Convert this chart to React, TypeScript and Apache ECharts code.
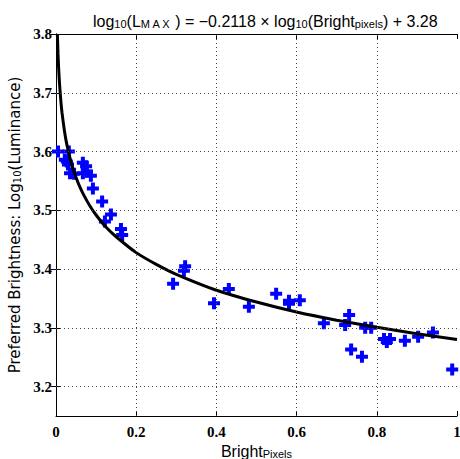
import React, { useEffect, useRef } from "react";
import * as echarts from "echarts";

const pointX = [
  0.005, 0.032, 0.022, 0.027, 0.03, 0.035, 0.045, 0.067, 0.075, 0.077, 0.067, 0.087,
  0.092, 0.115, 0.137, 0.122, 0.162, 0.165, 0.292, 0.319, 0.322, 0.394, 0.431,
  0.481, 0.549, 0.581, 0.581, 0.608, 0.668, 0.721, 0.731, 0.771, 0.786, 0.736,
  0.763, 0.818, 0.825, 0.833, 0.87, 0.903, 0.94, 0.988,
];
const pointY = [
  3.6, 3.6, 3.586, 3.583, 3.578, 3.563, 3.562, 3.581, 3.575, 3.566, 3.563, 3.559,
  3.537, 3.515, 3.493, 3.481, 3.468, 3.458, 3.375, 3.397, 3.405, 3.342, 3.366,
  3.336, 3.358, 3.346, 3.341, 3.347, 3.308, 3.305, 3.322, 3.3, 3.3, 3.263,
  3.251, 3.281, 3.276, 3.281, 3.278, 3.285, 3.292, 3.229,
];

// fitted curve log10(Lmax) = -0.2118*log10(Bright) + 3.28, sampled values
const curveX = [
  0.0035, 0.004, 0.005, 0.0065, 0.008, 0.01, 0.0125, 0.015, 0.02, 0.025, 0.03, 0.04,
  0.05, 0.06, 0.07, 0.085, 0.1, 0.125, 0.15, 0.2, 0.25, 0.3, 0.4, 0.5, 0.6, 0.7,
  0.8, 0.9, 1.0,
];
const curveY = [
  3.8, 3.788, 3.767, 3.743, 3.724, 3.704, 3.683, 3.666, 3.64, 3.619, 3.603, 3.576,
  3.556, 3.539, 3.525, 3.507, 3.492, 3.471, 3.455, 3.428, 3.408, 3.391, 3.364,
  3.344, 3.327, 3.313, 3.301, 3.29, 3.28,
];

const yTicks = [3.2, 3.3, 3.4, 3.5, 3.6, 3.7, 3.8];
const yGrid = [3.2, 3.3, 3.4, 3.5, 3.6, 3.7];
const xGrid = [0.2, 0.4, 0.6, 0.8];

const DEJAVU = "'DejaVu Sans', sans-serif";
const LIB = "'Liberation Sans', Arial, sans-serif";
const SERIF = "'Liberation Serif', serif";

function richStyles(font: string, main: number, sub: number) {
  return {
    a: { fontFamily: font, fontSize: main, color: "#000", lineHeight: 16, verticalAlign: "bottom" },
    s: { fontFamily: font, fontSize: sub, color: "#000", lineHeight: 22, verticalAlign: "bottom" },
    m: { fontFamily: font, fontSize: sub, color: "#000", lineHeight: 19, verticalAlign: "bottom" },
  };
}

export default function App() {
  const ref = useRef<HTMLDivElement>(null);
  useEffect(() => {
    if (!ref.current) return;
    const chart = echarts.init(ref.current, null, { renderer: "svg" });
    const tickLabel = {
      fontFamily: SERIF,
      fontWeight: "bold" as const,
      fontSize: 15,
      color: "#000",
    };
    const gridLine = {
      color: "#444",
      type: [1, 3] as any,
      width: 1,
    };
    chart.setOption({
      animation: false,
      backgroundColor: "#fff",
      title: {
        left: 88,
        top: 2,
        text: "{a|log}{s|10}{a|(L}{m|M A X}{a| ) = −0.2118 × log}{s|10}{a|(Bright}{s|pixels}{a|) + 3.28}",
        textStyle: {
          fontFamily: LIB,
          fontWeight: "normal",
          rich: richStyles(LIB, 16, 11),
        },
      },
      grid: { left: 56, top: 34, width: 401, height: 382, containLabel: false, outerBoundsMode: "none" },
      xAxis: [
        {
          type: "value",
          min: 0,
          max: 1,
          interval: 0.2,
          position: "bottom",
          name: "{a|Bright}{s|Pixels}",
          nameLocation: "middle",
          nameGap: 17,
          nameTextStyle: { rich: richStyles(LIB, 16, 11) },
          axisLine: { show: true, lineStyle: { color: "#000", width: 1 } },
          axisTick: { show: true, inside: true, length: 5, lineStyle: { color: "#000" } },
          axisLabel: { ...tickLabel, margin: 8 },
          splitLine: { show: false },
        },
        {
          type: "value",
          min: 0,
          max: 1,
          interval: 0.2,
          position: "top",
          axisLine: { show: true, lineStyle: { color: "#000", width: 1 } },
          axisTick: { show: true, inside: true, length: 5, lineStyle: { color: "#000" } },
          axisLabel: { show: false },
          splitLine: { show: false },
        },
      ],
      yAxis: [
        {
          type: "value",
          min: 3.15,
          max: 3.8,
          position: "left",
          name: "{a|Preferred Brightness: Log}{s|10}{a|(Luminance)}",
          nameLocation: "middle",
          nameGap: 30,
          nameTextStyle: { rich: richStyles(DEJAVU, 15, 10) },
          axisLine: { show: true, lineStyle: { color: "#000", width: 1 } },
          axisTick: { show: true, inside: true, length: 5, customValues: yTicks, lineStyle: { color: "#000" } },
          axisLabel: { ...tickLabel, margin: 4, customValues: yTicks, formatter: (v: number) => v.toFixed(1) },
          splitLine: { show: false },
        },
        {
          type: "value",
          min: 3.15,
          max: 3.8,
          position: "right",
          axisLine: { show: true, lineStyle: { color: "#000", width: 1 } },
          axisTick: { show: true, inside: true, length: 5, customValues: yTicks, lineStyle: { color: "#000" } },
          axisLabel: { show: false, customValues: yTicks },
          splitLine: { show: false },
        },
      ],
      series: [
        {
          type: "line",
          data: [],
          silent: true,
          markLine: {
            silent: true,
            symbol: "none",
            label: { show: false },
            lineStyle: gridLine,
            data: [
              ...yGrid.map((v) => ({ yAxis: v })),
              ...xGrid.map((v) => ({ xAxis: v })),
            ],
          },
        },
        {
          type: "scatter",
          data: pointX.map((x, i) => [x, pointY[i]]),
          symbol: "path://M4,0H8V4H12V8H8V12H4V8H0V4H4Z",
          symbolSize: 12,
          itemStyle: { color: "#0000ff", opacity: 1 },
          z: 3,
        },
        {
          type: "line",
          data: curveX.map((x, i) => [x, curveY[i]]),
          showSymbol: false,
          symbol: "none",
          lineStyle: { color: "#000", width: 3 },
          smooth: 0.2,
          z: 4,
        },
      ],
    });
    return () => chart.dispose();
  }, []);
  return (
    <div
      ref={ref}
      style={{ position: "absolute", left: 0, top: 0, width: 460, height: 459 }}
    />
  );
}
